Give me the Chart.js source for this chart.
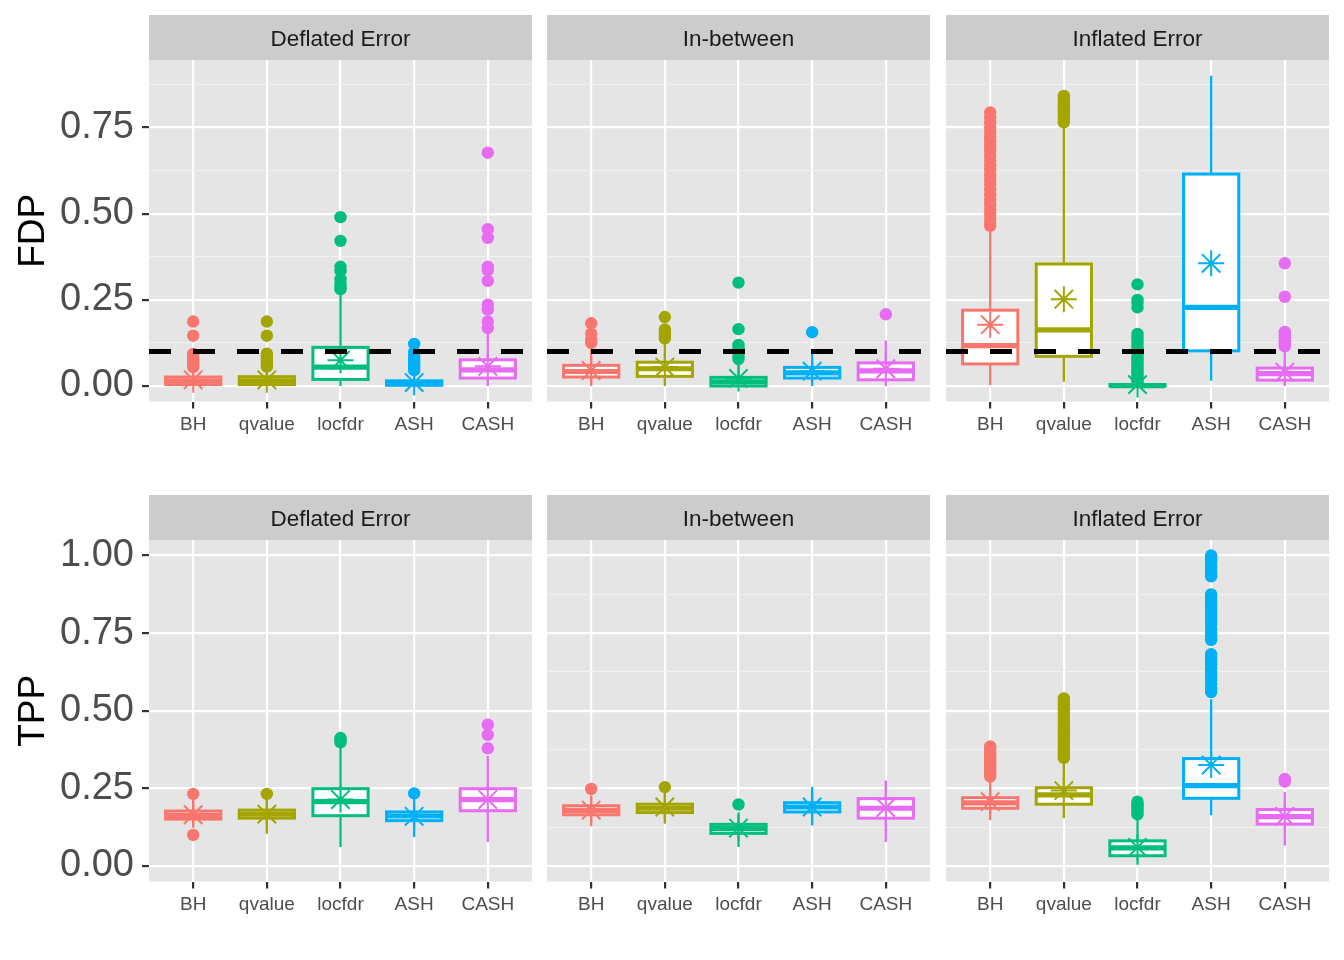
<!DOCTYPE html>
<html>
<head>
<meta charset="utf-8">
<script src="https://cdn.jsdelivr.net/npm/chart.js@4.4.0/dist/chart.umd.min.js"></script>
<style>
  body { margin: 0; background: #fff; width: 1344px; height: 960px; position: relative; overflow: hidden; }
  canvas { position: absolute; }
</style>
</head>
<body>
<canvas id="c00"></canvas><canvas id="c01"></canvas><canvas id="c02"></canvas>
<canvas id="c10"></canvas><canvas id="c11"></canvas><canvas id="c12"></canvas>
<script>
const methods = ['BH', 'qvalue', 'locfdr', 'ASH', 'CASH']
const settings = ['Deflated Error', 'In-between', 'Inflated Error']
const fdpTarget = 0.1

// one row per setting, one column per method
const fdpLow = [
    [0, 0, 0, 0, 0],
    [0, 0, 0, 0, 0],
    [0.003, 0.012, 0, 0.015, 0]
]
const fdpQ1 = [
    [0.004, 0.004, 0.019, 0.002, 0.023],
    [0.026, 0.028, 0, 0.023, 0.018],
    [0.064, 0.086, 0, 0.102, 0.017]
]
const fdpMedian = [
    [0.014, 0.015, 0.055, 0.008, 0.047],
    [0.042, 0.05, 0.012, 0.038, 0.044],
    [0.117, 0.163, 0.001, 0.228, 0.036]
]
const fdpQ3 = [
    [0.026, 0.027, 0.112, 0.015, 0.076],
    [0.06, 0.069, 0.025, 0.054, 0.067],
    [0.22, 0.354, 0.004, 0.615, 0.052]
]
const fdpHigh = [
    [0.05, 0.05, 0.265, 0.04, 0.158],
    [0.11, 0.125, 0.062, 0.1, 0.132],
    [0.448, 0.755, 0.009, 0.9, 0.105]
]
const fdpMean = [
    [0.018, 0.018, 0.075, 0.01, 0.057],
    [0.045, 0.055, 0.022, 0.043, 0.05],
    [0.178, 0.252, 0.004, 0.356, 0.04]
]
const fdpOutliers = [
    [
        [0.055, 0.062, 0.07, 0.077, 0.085, 0.093, 0.146, 0.187],
        [0.056, 0.063, 0.071, 0.079, 0.086, 0.094, 0.146, 0.187],
        [0.281, 0.288, 0.296, 0.31, 0.334, 0.346, 0.421, 0.49],
        [0.046, 0.053, 0.06, 0.067, 0.074, 0.082, 0.09, 0.098, 0.122],
        [0.168, 0.187, 0.222, 0.236, 0.305, 0.336, 0.346, 0.43, 0.455, 0.677]
    ],
    [
        [0.125, 0.134, 0.152, 0.182],
        [0.138, 0.146, 0.155, 0.164, 0.2],
        [0.078, 0.088, 0.1, 0.11, 0.119, 0.165, 0.3],
        [0.156],
        [0.208]
    ],
    [
        [0.465, 0.474, 0.486, 0.5, 0.512, 0.527, 0.54, 0.556, 0.57, 0.585, 0.598, 0.612, 0.627,
         0.64, 0.654, 0.668, 0.682, 0.695, 0.71, 0.722, 0.737, 0.75, 0.765, 0.779, 0.794],
        [0.765, 0.772, 0.781, 0.79, 0.798, 0.807, 0.815, 0.824, 0.833, 0.842],
        [0.012, 0.018, 0.024, 0.031, 0.038, 0.045, 0.052, 0.06, 0.068, 0.075, 0.083, 0.091,
         0.1, 0.108, 0.117, 0.126, 0.134, 0.143, 0.151, 0.228, 0.242, 0.25, 0.295],
        [],
        [0.115, 0.122, 0.13, 0.139, 0.148, 0.157, 0.259, 0.356]
    ]
]

const tppLow = [
    [0.124, 0.104, 0.061, 0.093, 0.077],
    [0.128, 0.136, 0.061, 0.13, 0.077],
    [0.147, 0.154, 0.004, 0.163, 0.066]
]
const tppQ1 = [
    [0.151, 0.154, 0.162, 0.146, 0.178],
    [0.165, 0.172, 0.105, 0.174, 0.154],
    [0.186, 0.199, 0.033, 0.218, 0.135]
]
const tppMedian = [
    [0.163, 0.167, 0.207, 0.161, 0.214],
    [0.179, 0.186, 0.12, 0.19, 0.186],
    [0.203, 0.229, 0.058, 0.259, 0.159]
]
const tppQ3 = [
    [0.177, 0.18, 0.249, 0.174, 0.249],
    [0.194, 0.199, 0.134, 0.204, 0.217],
    [0.22, 0.252, 0.081, 0.346, 0.182]
]
const tppHigh = [
    [0.214, 0.214, 0.385, 0.216, 0.355],
    [0.227, 0.235, 0.173, 0.254, 0.275],
    [0.275, 0.339, 0.163, 0.537, 0.238]
]
const tppMean = [
    [0.165, 0.167, 0.214, 0.16, 0.214],
    [0.18, 0.19, 0.122, 0.19, 0.188],
    [0.207, 0.243, 0.06, 0.325, 0.16]
]
const tppOutliers = [
    [[0.1, 0.232], [0.232], [0.398, 0.405, 0.412], [0.234], [0.379, 0.422, 0.455]],
    [[0.248], [0.254], [0.198], [], []],
    [
        [0.288, 0.296, 0.304, 0.311, 0.319, 0.327, 0.335, 0.343, 0.351, 0.36, 0.368, 0.377, 0.385],
        [0.348, 0.357, 0.366, 0.374, 0.383, 0.392, 0.4, 0.41, 0.419, 0.428, 0.437, 0.446,
         0.456, 0.465, 0.474, 0.484, 0.494, 0.503, 0.512, 0.521, 0.53, 0.54],
        [0.166, 0.173, 0.18, 0.187, 0.194, 0.2, 0.207],
        [0.56, 0.572, 0.585, 0.598, 0.61, 0.622, 0.636, 0.648, 0.66, 0.672, 0.682,
         0.728, 0.74, 0.752, 0.765, 0.778, 0.79, 0.8, 0.81, 0.822, 0.835, 0.845, 0.855, 0.866, 0.875,
         0.933, 0.94, 0.95, 0.962, 0.975, 0.985, 0.993, 1.0],
        [0.272, 0.28]
    ]
]

const colors = ['#F8766D', '#A3A500', '#00BF7D', '#00B0F6', '#E76BF3']
const FONT = "'Liberation Sans', Arial, Helvetica, sans-serif"
Chart.defaults.font.family = FONT

// layout of the facet grid
const panelLeft = [149, 547, 946]
const panelWidth = 383
const panelHeight = 341.5
const stripHeight = 45
const canvasHeight = 440
const rowTop = [15, 495]

const isMajor = v => Math.abs(v * 4 - Math.round(v * 4)) < 1e-6

const boxPlugin = {
    id: 'boxes',
    beforeDraw(chart) {
        const { ctx, chartArea: a } = chart
        const o = chart.options.plugins.boxes
        ctx.save()
        ctx.fillStyle = '#E5E5E5'
        ctx.fillRect(a.left, a.top, a.right - a.left, a.bottom - a.top)
        ctx.fillStyle = '#CCCCCC'
        ctx.fillRect(a.left, a.top - stripHeight, a.right - a.left, stripHeight)
        ctx.fillStyle = '#1A1A1A'
        ctx.font = '22.5px ' + FONT
        ctx.textAlign = 'center'
        ctx.textBaseline = 'middle'
        ctx.fillText(o.strip, (a.left + a.right) / 2, a.top - stripHeight / 2 + 2.5)
        ctx.restore()
    },
    beforeDatasetsDraw(chart) {
        const { ctx, scales: { x, y } } = chart
        const o = chart.options.plugins.boxes
        ctx.save()
        o.stats.forEach((s, i) => {
            const cx = x.getPixelForValue(i + 1)
            const hw = x.getPixelForValue(i + 1.375) - cx
            const top = y.getPixelForValue(s.q3)
            const bot = y.getPixelForValue(s.q1)
            const mid = y.getPixelForValue(s.med)
            ctx.strokeStyle = colors[i]
            ctx.lineWidth = 2.3
            ctx.beginPath()
            ctx.moveTo(cx, y.getPixelForValue(s.lo))
            ctx.lineTo(cx, bot)
            ctx.moveTo(cx, top)
            ctx.lineTo(cx, y.getPixelForValue(s.hi))
            ctx.stroke()
            ctx.fillStyle = '#fff'
            ctx.fillRect(cx - hw, top, 2 * hw, bot - top)
            ctx.lineWidth = 3
            ctx.strokeRect(cx - hw, top, 2 * hw, bot - top)
            ctx.lineWidth = 5.2
            ctx.beginPath()
            ctx.moveTo(cx - hw, mid)
            ctx.lineTo(cx + hw, mid)
            ctx.stroke()
        })
        ctx.restore()
    },
    afterDatasetsDraw(chart) {
        const o = chart.options.plugins.boxes
        if (o.target == null) return
        const { ctx, chartArea: a, scales: { y } } = chart
        const ty = y.getPixelForValue(o.target)
        ctx.save()
        ctx.strokeStyle = '#000'
        ctx.lineWidth = 5
        ctx.setLineDash([22, 22])
        ctx.beginPath()
        ctx.moveTo(a.left, ty)
        ctx.lineTo(a.right, ty)
        ctx.stroke()
        ctx.restore()
    }
}

const makePanel = (row, col) => {
    const isFdp = row === 0
    const low = isFdp ? fdpLow : tppLow
    const q1 = isFdp ? fdpQ1 : tppQ1
    const med = isFdp ? fdpMedian : tppMedian
    const q3 = isFdp ? fdpQ3 : tppQ3
    const high = isFdp ? fdpHigh : tppHigh
    const mean = isFdp ? fdpMean : tppMean
    const outliers = isFdp ? fdpOutliers : tppOutliers

    const stats = methods.map((m, i) => ({
        lo: low[col][i], q1: q1[col][i], med: med[col][i], q3: q3[col][i], hi: high[col][i]
    }))

    const datasets = []
    methods.forEach((m, i) => {
        datasets.push({
            label: m + ' outliers',
            data: outliers[col][i].map(v => ({ x: i + 1, y: v })),
            pointRadius: 6.2,
            pointHoverRadius: 6.2,
            backgroundColor: colors[i],
            borderWidth: 0,
            order: 2
        })
        datasets.push({
            label: m + ' mean',
            data: [{ x: i + 1, y: mean[col][i] }],
            pointStyle: 'star',
            pointRadius: 13,
            pointHoverRadius: 13,
            borderColor: colors[i],
            backgroundColor: colors[i],
            borderWidth: 2,
            order: 1
        })
    })

    const first = col === 0
    const padLeft = first ? 8 : 0
    const canvas = document.getElementById('c' + row + col)
    const left = first ? 0 : panelLeft[col]
    const width = panelLeft[col] + panelWidth - left
    canvas.width = width
    canvas.height = canvasHeight
    canvas.style.left = left + 'px'
    canvas.style.top = rowTop[row] + 'px'

    const yMin = isFdp ? -0.045 : -0.05
    const yMax = isFdp ? 0.946 : 1.05

    new Chart(canvas, {
        type: 'scatter',
        data: { datasets },
        plugins: [boxPlugin],
        options: {
            responsive: false,
            animation: false,
            events: [],
            layout: { autoPadding: false, padding: { top: stripHeight, left: padLeft, right: 0, bottom: 0 } },
            plugins: {
                legend: { display: false },
                tooltip: { enabled: false },
                boxes: { strip: settings[col], stats, target: isFdp ? fdpTarget : null }
            },
            scales: {
                x: {
                    type: 'linear',
                    min: 0.4,
                    max: 5.6,
                    afterBuildTicks: ax => { ax.ticks = methods.map((m, i) => ({ value: i + 1 })) },
                    afterFit: ax => {
                        ax.height = canvasHeight - stripHeight - panelHeight
                        ax.paddingLeft = 0
                        ax.paddingRight = 0
                    },
                    ticks: {
                        callback: v => methods[v - 1],
                        autoSkip: false,
                        maxRotation: 0,
                        color: '#4D4D4D',
                        font: { size: 19 },
                        padding: 5
                    },
                    grid: { color: '#FFFFFF', lineWidth: 2.2, tickColor: '#333333', tickLength: 7 },
                    border: { display: false }
                },
                y: {
                    min: yMin,
                    max: yMax,
                    afterBuildTicks: ax => {
                        const t = []
                        for (let k = 0; k <= 8; k++) {
                            const v = k * 0.125
                            if (v >= yMin && v <= yMax) t.push({ value: v })
                        }
                        ax.ticks = t
                    },
                    afterFit: ax => {
                        ax.width = first ? panelLeft[0] - padLeft : 0
                        ax.paddingTop = 0
                        ax.paddingBottom = 0
                    },
                    ticks: {
                        display: first,
                        callback: v => isMajor(v) ? v.toFixed(2) : '',
                        color: '#4D4D4D',
                        font: { size: 38 },
                        padding: 8
                    },
                    grid: {
                        color: c => isMajor(c.tick.value) ? '#FFFFFF' : '#F2F2F2',
                        lineWidth: c => isMajor(c.tick.value) ? 2.2 : 1.1,
                        tickColor: c => (first && isMajor(c.tick.value)) ? '#333333' : 'rgba(0,0,0,0)',
                        tickLength: first ? 7 : 0,
                        drawTicks: first
                    },
                    border: { display: false },
                    title: {
                        display: first,
                        text: isFdp ? 'FDP' : 'TPP',
                        color: '#000000',
                        font: { size: 37 },
                        padding: { top: 4, bottom: 4 }
                    }
                }
            }
        }
    })
}

for (let r = 0; r < 2; r++) {
    for (let c = 0; c < 3; c++) makePanel(r, c)
}
</script>
</body>
</html>
